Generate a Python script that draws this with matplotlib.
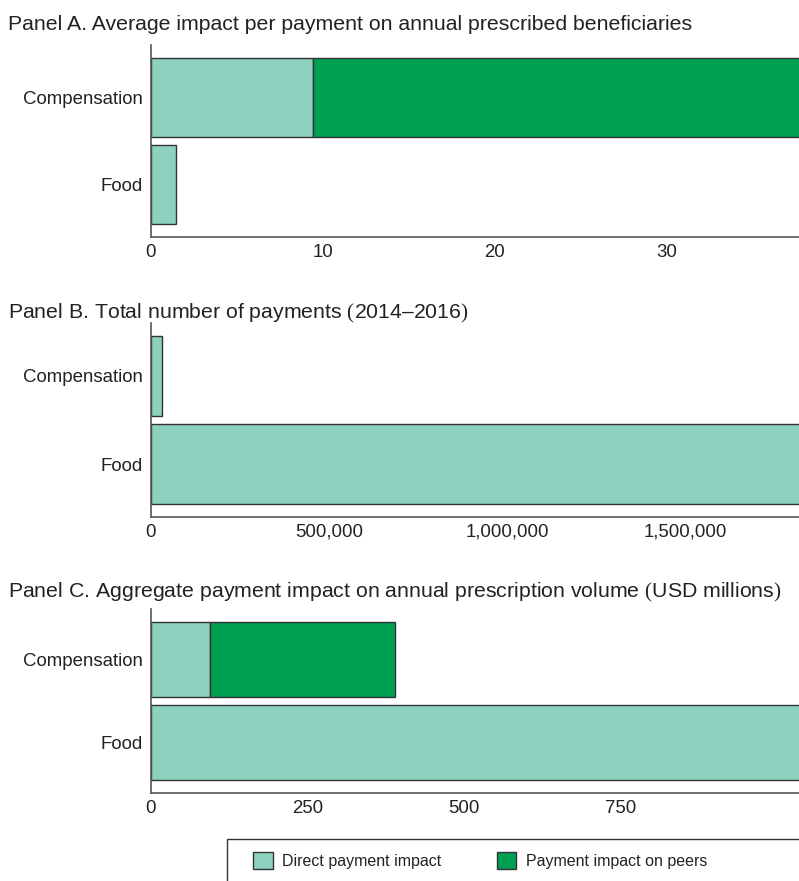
import matplotlib
matplotlib.use('Agg')
import matplotlib.pyplot as plt
from matplotlib.patches import Patch, Rectangle
from matplotlib.ticker import FuncFormatter

plt.rcParams['font.family'] = ['Liberation Sans', 'DejaVu Sans']
plt.rcParams['mathtext.fontset'] = 'custom'
plt.rcParams['mathtext.rm'] = 'Liberation Serif'

# data (Food first so it sits at the bottom of each panel)
categories = ['Food', 'Compensation']
avg_direct = [1.45, 9.4]
avg_peers = [0, 29.5]
n_payments = [1900000, 31000]
agg_direct = [1080, 94]
agg_peers = [0, 295]

titles = ['Panel A. Average impact per payment on annual prescribed beneficiaries',
          'Panel B. Total number of payments $($2014–2016$)$',
          'Panel C. Aggregate payment impact on annual prescription volume $($USD millions$)$']
xticks_a = [0, 10, 20, 30]
xticks_b = [0, 500000, 1000000, 1500000]
xticks_c = [0, 250, 500, 750]

LIGHT = '#8dd1bf'
DARK = '#00a053'
EDGE = '#333333'

W, H = 799, 881
fig = plt.figure(figsize=(W / 100, H / 100), dpi=100)


def panel(top, bottom, xmax):
    ax = fig.add_axes([151 / W, 1 - bottom / H, (W - 151) / W, (bottom - top) / H])
    for s in ['top', 'right']:
        ax.spines[s].set_visible(False)
    for s in ['left', 'bottom']:
        ax.spines[s].set_color('#555555')
        ax.spines[s].set_linewidth(1.2)
    ax.tick_params(length=0, labelsize=13.4, labelcolor='#222222')
    ax.tick_params(axis='x', pad=5)
    ax.tick_params(axis='y', pad=6)
    ax.set_xlim(0, xmax)
    ax.set_ylim(-0.6, 1.6)
    return ax


def draw(ax, direct, peers=None):
    ax.barh(categories, direct, height=0.9, color=LIGHT, edgecolor=EDGE, linewidth=1.0)
    if peers is not None:
        idx = [i for i, v in enumerate(peers) if v > 0]
        ax.barh([categories[i] for i in idx], [peers[i] for i in idx],
                left=[direct[i] for i in idx], height=0.9,
                color=DARK, edgecolor=EDGE, linewidth=1.0)


ax_a = panel(45, 237, 37.7)
draw(ax_a, avg_direct, avg_peers)
ax_a.set_xticks(xticks_a)

ax_b = panel(323, 517, 1820000)
draw(ax_b, n_payments)
ax_b.set_xticks(xticks_b)
ax_b.xaxis.set_major_formatter(FuncFormatter(lambda v, p: f'{int(v):,}'))

ax_c = panel(609, 793, 1034)
draw(ax_c, agg_direct, agg_peers)
ax_c.set_xticks(xticks_c)

for t, base in zip(titles, [30, 318, 597]):
    fig.text(8 / W, 1 - base / H, t, fontsize=15.3, color='#222222', va='baseline')

# legend box runs off the right and bottom edges
fig.add_artist(Rectangle((227 / W, -0.05), 1, 0.05 + 1 - 839 / H, transform=fig.transFigure,
                         fill=False, edgecolor=EDGE, linewidth=1.0))
handles = [Patch(facecolor=LIGHT, edgecolor=EDGE, label='Direct payment impact'),
           Patch(facecolor=DARK, edgecolor=EDGE, label='Payment impact on peers')]
fig.legend(handles=handles, loc='upper left', bbox_to_anchor=(247 / W, 1 - 846 / H),
           ncol=2, frameon=False, fontsize=11.5, handlelength=1.2, handleheight=1.2,
           handletextpad=0.6, columnspacing=3.5, borderaxespad=0, labelcolor='#222222')

fig.savefig('out.png', dpi=100)
